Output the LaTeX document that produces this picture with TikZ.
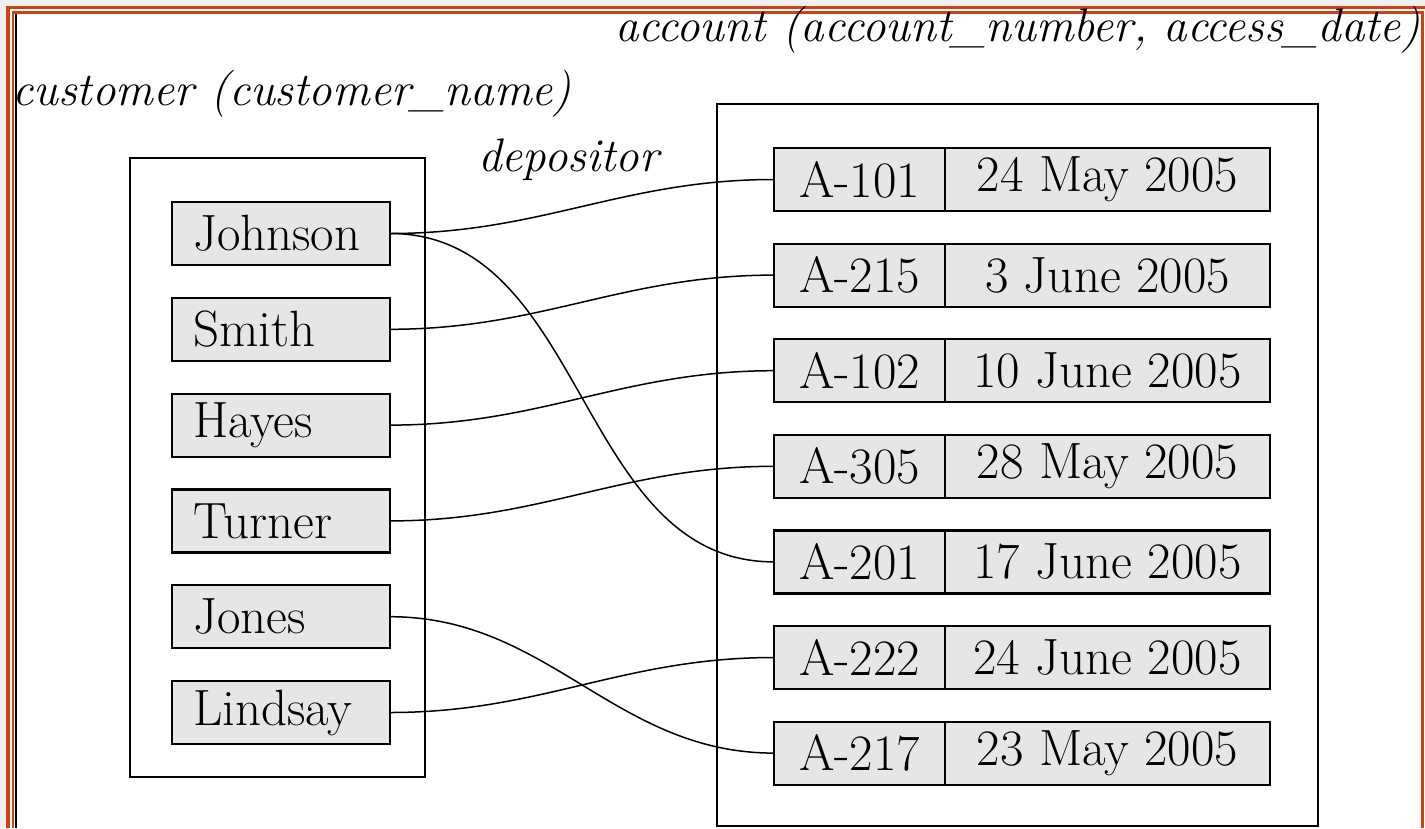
\documentclass[tikz,border=0pt]{standalone}
\begin{document}
\begin{tikzpicture}[x=1pt,y=-1pt,
  boxfill/.style={fill={rgb,255:red,230;green,230;blue,230}},
  namebox/.style={draw, boxfill, line width=2.2pt, outer sep=0pt, minimum height=63pt,
    text width=176pt, inner xsep=21pt, inner ysep=0pt, align=left,
    font=\fontsize{51}{53}\selectfont},
  cellA/.style={draw, boxfill, line width=2.2pt, outer sep=0pt, minimum height=63pt,
    minimum width=171pt, inner sep=0pt, font=\fontsize{51}{53}\selectfont},
  cellD/.style={draw, boxfill, line width=2.2pt, outer sep=0pt, minimum height=63pt,
    minimum width=325pt, inner sep=0pt, font=\fontsize{51}{53}\selectfont},
  bigbox/.style={draw, line width=2pt},
  conn/.style={draw, line width=1.5pt},
  lbl/.style={font=\itshape\fontsize{47}{50}\selectfont, inner sep=0pt}
]
\definecolor{frameorange}{RGB}{208,64,16}
\useasboundingbox (0,0) rectangle (1425,828);
% frame
\fill[gray!12] (0,0) rectangle (1425,828);
\fill[white] (10,9) rectangle (1425,828);
\draw[frameorange, line width=3.5pt] (8,828) -- (8,7.5) -- (1425,7.5);
\draw[frameorange, line width=2.5pt] (13,828) -- (13,12.5) -- (1422.5,12.5) -- (1422.5,828);
\draw[black, line width=2pt] (15.5,828) -- (15.5,14);

% big boxes
\draw[bigbox] (130,158) rectangle (425,777);
\draw[bigbox] (717,104) rectangle (1318,826);

% labels
\node[lbl, anchor=base east] (acclbl) at (1420,41) {account (account\_number, access\_date)};
\node[lbl, anchor=base west] (custlbl) at (12,105) {customer (customer\_name)};
\node[lbl, anchor=base west] (deplbl) at (478,171) {depositor};

% customer names
\node[namebox] (johnson) at (281,233.5) {Johnson};
\node[namebox] (smith) at (281,329.3) {Smith};
\node[namebox] (hayes) at (281,425.1) {Hayes};
\node[namebox] (turner) at (281,520.9) {Turner};
\node[namebox] (jones) at (281,616.7) {Jones};
\node[namebox] (lindsay) at (281,712.5) {Lindsay};

% accounts
\node[cellA] (a101) at (859.5,179.5) {A-101};
\node[cellD, anchor=west] (d101) at (a101.east) {24 May 2005};
\node[cellA] (a215) at (859.5,275.1) {A-215};
\node[cellD, anchor=west] (d215) at (a215.east) {3 June 2005};
\node[cellA] (a102) at (859.5,370.7) {A-102};
\node[cellD, anchor=west] (d102) at (a102.east) {10 June 2005};
\node[cellA] (a305) at (859.5,466.3) {A-305};
\node[cellD, anchor=west] (d305) at (a305.east) {28 May 2005};
\node[cellA] (a201) at (859.5,561.9) {A-201};
\node[cellD, anchor=west] (d201) at (a201.east) {17 June 2005};
\node[cellA] (a222) at (859.5,657.5) {A-222};
\node[cellD, anchor=west] (d222) at (a222.east) {24 June 2005};
\node[cellA] (a217) at (859.5,753.1) {A-217};
\node[cellD, anchor=west] (d217) at (a217.east) {23 May 2005};

% depositor connectors
\draw[conn] (johnson.east) to[out=0,in=180] (a101.west);
\draw[conn] (johnson.east) to[out=0,in=180] (a201.west);
\draw[conn] (smith.east) to[out=0,in=180] (a215.west);
\draw[conn] (hayes.east) to[out=0,in=180] (a102.west);
\draw[conn] (turner.east) to[out=0,in=180] (a305.west);
\draw[conn] (jones.east) to[out=0,in=180] (a217.west);
\draw[conn] (lindsay.east) to[out=0,in=180] (a222.west);
\end{tikzpicture}
\end{document}
